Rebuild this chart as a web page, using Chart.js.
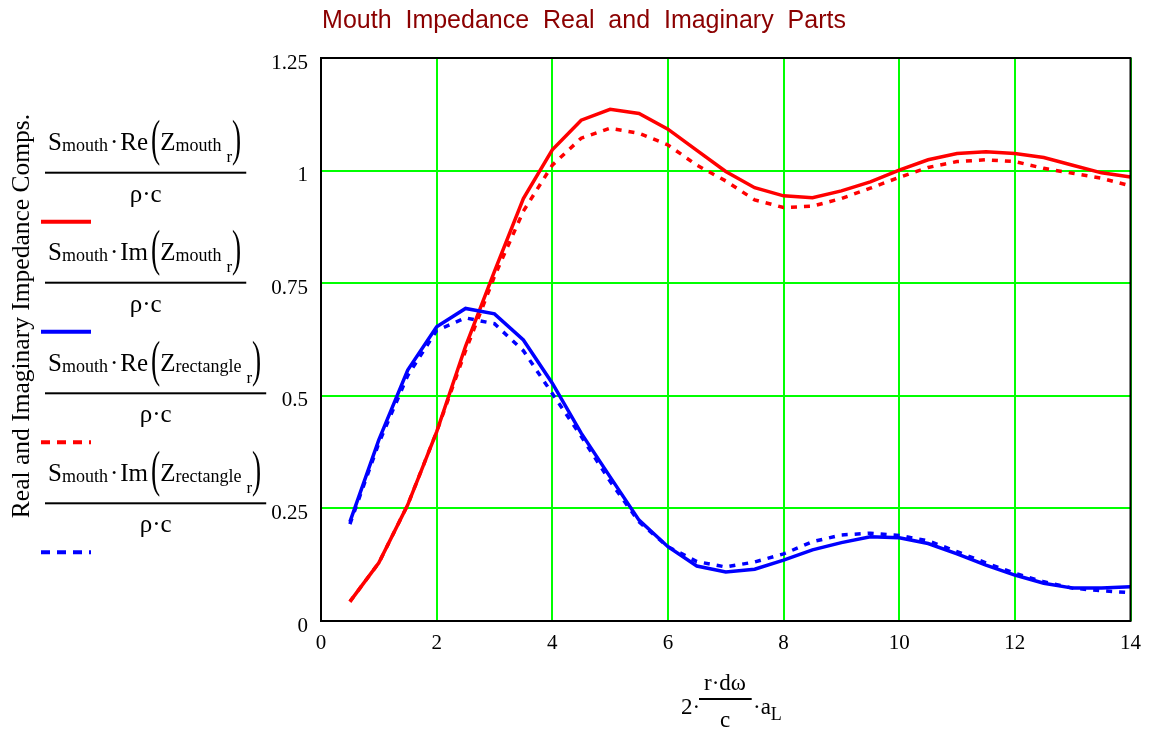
<!DOCTYPE html>
<html><head><meta charset="utf-8">
<script src="https://cdn.jsdelivr.net/npm/chart.js@4/dist/chart.umd.min.js"></script>
<style>html,body{margin:0;padding:0;background:#fff;overflow:hidden}</style>
</head><body>
<canvas id="c" width="1151" height="729"></canvas>
<script>
const xValues = [0.5,1,1.5,2,2.5,3,3.5,4,4.5,5,5.5,6,6.5,7,7.5,8,8.5,9,9.5,10,10.5,11,11.5,12,12.5,13,13.5,14];
const reMouth = [0.043,0.129,0.258,0.42,0.61,0.776,0.938,1.046,1.112,1.136,1.127,1.092,1.045,0.998,0.962,0.944,0.94,0.955,0.975,1.001,1.024,1.038,1.042,1.038,1.029,1.012,0.995,0.986];
const imMouth = [0.22,0.402,0.557,0.653,0.694,0.682,0.624,0.528,0.417,0.32,0.224,0.165,0.122,0.109,0.115,0.135,0.158,0.174,0.187,0.185,0.172,0.149,0.124,0.102,0.084,0.073,0.073,0.076];
const reRect = [0.043,0.129,0.258,0.42,0.60,0.765,0.91,1.012,1.072,1.094,1.083,1.057,1.012,0.977,0.935,0.918,0.921,0.938,0.961,0.985,1.007,1.02,1.024,1.02,1.005,0.994,0.983,0.966];
const imRect = [0.215,0.395,0.545,0.645,0.673,0.66,0.60,0.505,0.41,0.31,0.22,0.165,0.132,0.12,0.131,0.149,0.176,0.191,0.195,0.19,0.178,0.154,0.129,0.106,0.087,0.073,0.067,0.063];
const xTickLabels = ['0','2','4','6','8','10','12','14'];
const yTickLabels = ['0','0.25','0.5','0.75','1','1.25'];
const titleText = 'Mouth  Impedance  Real  and  Imaginary  Parts';
const yTitle = 'Real and Imaginary Impedance Comps.';
const legendNames = ['mouth','mouth','rectangle','rectangle'];
const legendOps = ['Re','Im','Re','Im'];

const SERIF = 'Liberation Serif, Times New Roman, serif';
const pts = arr => xValues.map((x,i)=>({x:x,y:arr[i]}));

function drawRich(ctx, x, base, parts){
  for(const p of parts){
    if(p.gap){x+=p.gap;continue;}
    if(p.paren){
      ctx.save();
      ctx.font = '50px ' + SERIF;
      const w = ctx.measureText(p.paren).width*0.55;
      ctx.translate(x, base+5);
      ctx.scale(0.55,1);
      ctx.fillText(p.paren,0,0);
      ctx.restore();
      x += w; continue;
    }
    ctx.font = p.f + 'px ' + SERIF;
    ctx.fillText(p.t, x, base + (p.dy||0));
    x += ctx.measureText(p.t).width;
  }
  return x;
}

const decor = {
  id:'decor',
  afterDraw(chart){
    const ctx = chart.ctx, ca = chart.chartArea;
    ctx.save();
    ctx.strokeStyle = '#000'; ctx.lineWidth = 2;
    ctx.strokeRect(ca.left, ca.top, ca.right-ca.left, ca.bottom-ca.top);
    ctx.fillStyle = '#000';
    ctx.textAlign = 'left'; ctx.textBaseline = 'alphabetic';
    const bars = [172.7, 282.7, 393.3, 503.3];
    chart.data.datasets.forEach((ds,i)=>{
      const by = bars[i];
      const nb = by - 22.7;
      const x0 = 48;
      const parts = [{t:'S',f:25},{t:'mouth',f:18,dy:1},{gap:2},{t:'\u00B7',f:25},{gap:2},{t:legendOps[i],f:25},{gap:3},{paren:'('},{t:'Z',f:25},{t:legendNames[i],f:18,dy:1},{gap:5},{t:'r',f:17,dy:12},{paren:')'}];
      const xe = drawRich(ctx, x0, nb, parts);
      ctx.fillRect(45, by-1, xe+5-45, 2);
      ctx.font = '25px ' + SERIF;
      ctx.textAlign = 'center';
      ctx.fillText('\u03C1\u00B7c', (45+xe+5)/2, by+29);
      ctx.textAlign = 'left';
      ctx.save();
      ctx.strokeStyle = ds.borderColor; ctx.lineWidth = 4;
      ctx.setLineDash(ds.borderDash && ds.borderDash.length ? [9,7] : []);
      ctx.beginPath(); ctx.moveTo(41, by+49); ctx.lineTo(91, by+49); ctx.stroke();
      ctx.restore();
    });
    // y title
    ctx.save();
    ctx.font = '25.5px ' + SERIF;
    ctx.translate(29, 316); ctx.rotate(-Math.PI/2);
    ctx.textAlign = 'center';
    ctx.fillText(yTitle, 0, 0);
    ctx.restore();
    // x title
    ctx.font = '23px ' + SERIF;
    ctx.fillText('2\u00B7', 681, 714);
    ctx.fillRect(699, 698, 52.7, 2);
    ctx.textAlign = 'center';
    ctx.fillText('r\u00B7d\u03C9', 725, 690);
    ctx.fillText('c', 725, 727);
    ctx.textAlign = 'left';
    ctx.fillText('\u00B7a', 753, 714);
    const wa = ctx.measureText('\u00B7a').width;
    ctx.font = '18px ' + SERIF;
    ctx.fillText('L', 753+wa, 720);
    ctx.restore();
  }
};

new Chart(document.getElementById('c'), {
  type:'line',
  data:{datasets:[
    {data:pts(reMouth), borderColor:'#ff0000', borderWidth:3.5, pointRadius:0, tension:0, order:4},
    {data:pts(imMouth), borderColor:'#0000ff', borderWidth:3.5, pointRadius:0, tension:0, order:3},
    {data:pts(reRect), borderColor:'#ff0000', borderWidth:3.5, borderDash:[6,7], pointRadius:0, tension:0, order:2},
    {data:pts(imRect), borderColor:'#0000ff', borderWidth:3.5, borderDash:[6,7], pointRadius:0, tension:0, order:1}
  ]},
  options:{
    responsive:false, animation:false, devicePixelRatio:1,
    layout:{padding:{left:37,right:20,top:0,bottom:0}},
    plugins:{
      legend:{display:false}, tooltip:{enabled:false},
      title:{display:true, text:titleText, color:'#8b0000', font:{family:'Liberation Sans, Arial, sans-serif', size:25, weight:'normal'}, padding:{top:6,bottom:22}}
    },
    scales:{
      x:{type:'linear', min:0, max:14,
        ticks:{stepSize:2, color:'#000', font:{family:SERIF, size:21}, padding:10, maxRotation:0,
          callback:(v,i)=>xTickLabels[i]},
        grid:{color:'#00ff00', lineWidth:2, drawTicks:false}, border:{display:false},
        afterFit:s=>{s.height=108;}},
      y:{min:0, max:1.25,
        ticks:{stepSize:0.25, color:'#000', font:{family:SERIF, size:21}, padding:13, labelOffset:5,
          callback:(v,i)=>yTickLabels[i]},
        grid:{color:'#00ff00', lineWidth:2, drawTicks:false}, border:{display:false},
        afterFit:s=>{s.width=284;}}
    }
  },
  plugins:[decor]
});
</script>
</body></html>
